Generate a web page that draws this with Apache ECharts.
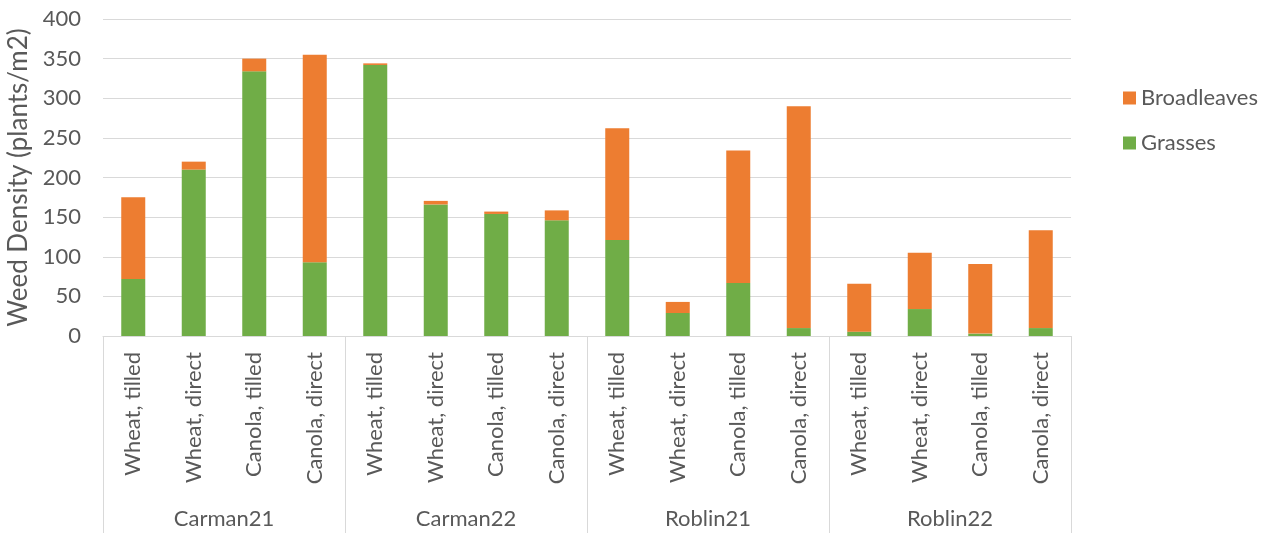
<!DOCTYPE html>
<html>
<head>
<meta charset="utf-8">
<script src="https://cdn.jsdelivr.net/npm/echarts@6/dist/echarts.min.js"></script>
<style>html,body{margin:0;padding:0;background:#fff}#c{width:1269px;height:533px}</style>
</head>
<body>
<div id="c"></div>
<script>
const categories = [
  "Wheat, tilled","Wheat, direct","Canola, tilled","Canola, direct",
  "Wheat, tilled","Wheat, direct","Canola, tilled","Canola, direct",
  "Wheat, tilled","Wheat, direct","Canola, tilled","Canola, direct",
  "Wheat, tilled","Wheat, direct","Canola, tilled","Canola, direct"
];
const groups = ["Carman21","Carman22","Roblin21","Roblin22"];
const grasses = [72,210,334,93, 342,166,154,146, 121,29,67,10, 5.5,34,3,10];
const broadleaves = [103,10,16,262, 2,4.5,3,12.5, 141,14,167,280, 60.5,71,88,123.5];
const yTicks = {min:0, max:400, interval:50};

const FONT = 'Lato';
const TXT = '#595959';
const GRID = '#d9d9d9';

const chart = echarts.init(document.getElementById('c'), null, {renderer:'canvas'});
chart.setOption({
  backgroundColor:'#fff',
  animation:false,
  textStyle:{fontFamily:FONT},
  grid:{left:103, right:198, top:19, bottom:197, containLabel:false, outerBoundsMode:'none'},
  legend:{
    data:['Broadleaves','Grasses'],
    orient:'vertical', left:1118, top:82,
    itemWidth:13, itemHeight:13, itemGap:23,
    icon:'rect',
    textStyle:{fontSize:22, color:TXT, fontFamily:FONT}
  },
  xAxis:[{
    type:'category', data:categories, position:'bottom',
    axisLine:{show:true, lineStyle:{color:GRID, width:1}},
    axisTick:{show:false},
    axisLabel:{rotate:90, margin:16, fontSize:22, color:TXT, fontFamily:FONT, interval:0}
  },{
    type:'category', data:groups, position:'bottom',
    axisLine:{show:false},
    axisTick:{show:true, length:197, lineStyle:{color:GRID, width:1}},
    axisLabel:{margin:172, fontSize:22, color:TXT, fontFamily:FONT, interval:0},
    splitLine:{show:false}
  }],
  yAxis:{
    type:'value', min:yTicks.min, max:yTicks.max, interval:yTicks.interval,
    axisLine:{show:false}, axisTick:{show:false},
    splitLine:{lineStyle:{color:GRID, width:1}},
    axisLabel:{fontSize:22, color:TXT, fontFamily:FONT, margin:22},
    name:'Weed Density (plants/m2)', nameLocation:'middle', nameGap:69,
    nameTextStyle:{fontSize:26, color:TXT, fontFamily:FONT}
  },
  series:[{
    name:'Grasses', type:'bar', stack:'total', data:grasses, barWidth:24,
    itemStyle:{color:'#70AD47'}
  },{
    name:'Broadleaves', type:'bar', stack:'total', data:broadleaves, barWidth:24,
    itemStyle:{color:'#ED7D31'}
  }]
});
</script>
</body>
</html>
